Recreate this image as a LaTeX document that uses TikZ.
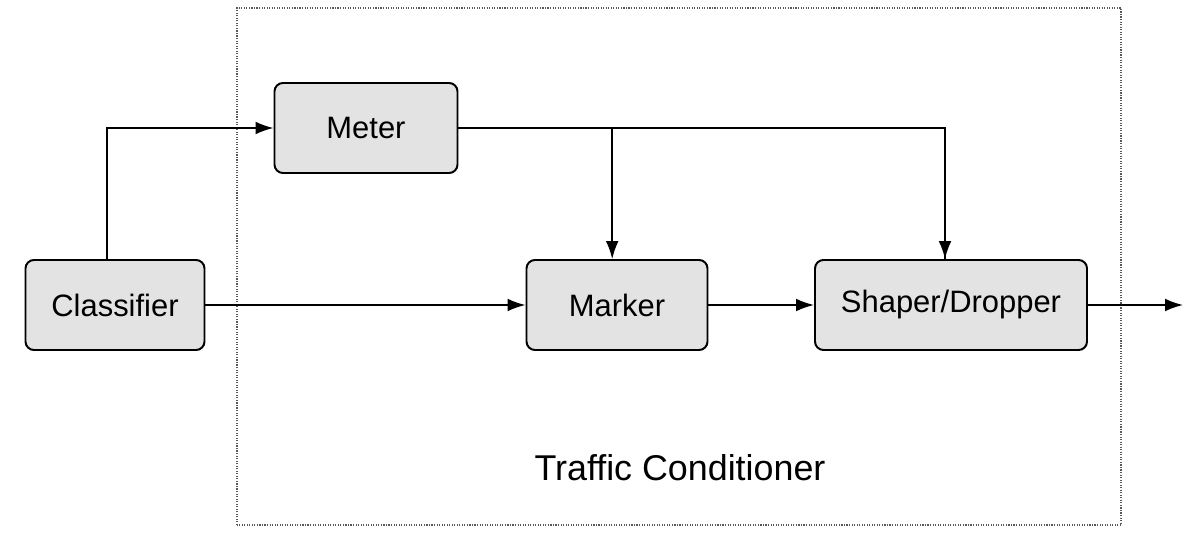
\documentclass[tikz,border=0pt]{standalone}
\usepackage{fontspec}
\setmainfont{Liberation Sans}
\usetikzlibrary{arrows.meta}

\begin{document}
\begin{tikzpicture}[thick,
		block/.style={draw, line width=1.4pt, fill=gray!22, rounded corners=6pt, minimum height=2.25cm, font=\fontsize{22}{26}\selectfont},
		flow/.style={line width=1.2pt, -{Latex[length=0.45cm, width=0.32cm]}}]
			\useasboundingbox (0,0) rectangle (29.675,13.3);
			% traffic conditioner frame
			\draw[densely dotted, gray!70!black, line width=0.8pt] (5.925,0.175) rectangle (28.025,13.1);
			\node (label) at (17.0,1.6) {\fontsize{25.5}{30}\selectfont Traffic Conditioner};
			% blocks
			\node[block, minimum width=4.475cm] (classifier) at (2.875,5.675) {Classifier};
			\node[block, minimum width=4.575cm] (meter) at (9.15,10.1) {Meter};
			\node[block, minimum width=4.525cm] (marker) at (15.425,5.675) {Marker};
			\node[block, minimum width=6.8cm] (shaper) at (23.775,5.675) {Shaper/Dropper};
			\coordinate (out) at (29.575,5.675);
			\coordinate (markerin) at ([xshift=-0.12cm]marker.north);
			\coordinate (shaperin) at ([xshift=-0.15cm]shaper.north);
			% connectors
			\draw[flow] ([xshift=-0.2cm]classifier.north) |- (meter.west);
			\draw[flow] (classifier.east) -- (marker.west);
			\draw[flow] (marker.east) -- (shaper.west);
			\draw[flow] (shaper.east) -- (out);
			\draw[line width=1.2pt] (meter.east) -| (shaperin);
			\draw[flow] (meter.east -| shaperin) -- (shaperin);
			\draw[flow] (meter.east -| markerin) -- (markerin);
		\end{tikzpicture}
\end{document}
